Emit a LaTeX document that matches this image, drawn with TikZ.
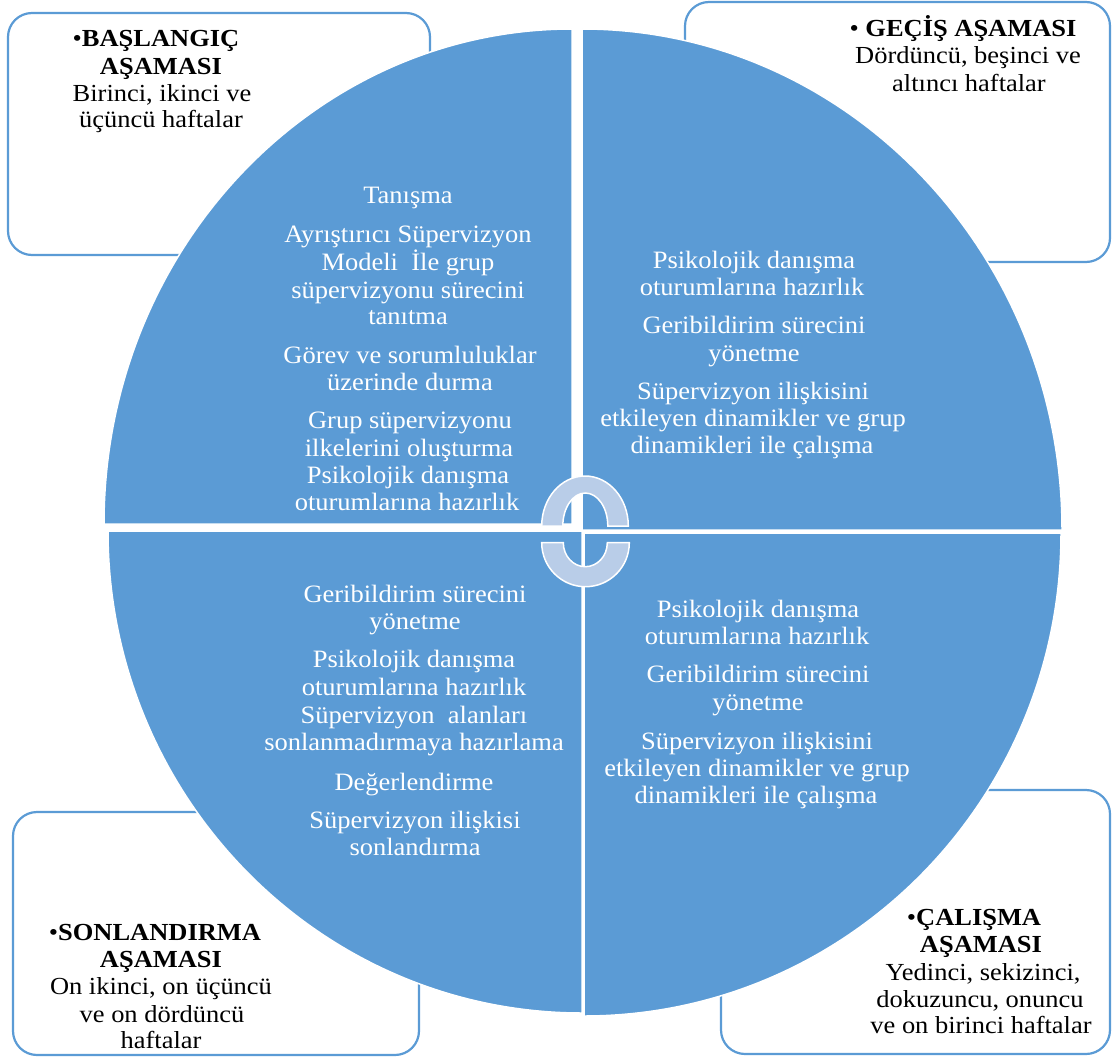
\documentclass[tikz,border=0pt]{standalone}
\usepackage{fontspec}
\setmainfont{Liberation Serif}[FakeStretch=1.06]
\newfontfamily\boxfont{Liberation Serif}[FakeStretch=1.08]
\definecolor{qblue}{HTML}{5B9BD5}
\definecolor{arcblue}{HTML}{B9CDE8}
\tikzset{
  quad/.style={fill=qblue, draw=white, line width=1.5pt},
  ring/.style={fill=arcblue, draw=white, line width=1.5pt},
  phasebox/.style={draw=qblue, fill=white, line width=2.2pt, rounded corners=24pt, inner sep=0pt},
  ctext/.style={text=white, font=\fontsize{25}{27.5}\selectfont, anchor=base, inner sep=0pt},
  btext/.style={text=black, font=\boxfont\fontsize{24.5}{27}\selectfont, anchor=base, inner sep=0pt},
}
\begin{document}
\begin{tikzpicture}[x=1pt, y=-1pt]
\useasboundingbox (0,0) rectangle (1112,1057);
% phase boxes
\node[phasebox, minimum width=422pt, minimum height=242pt] (boxTL) at (219,134) {};
\node[phasebox, minimum width=425pt, minimum height=260pt] (boxTR) at (897.5,132) {};
\node[phasebox, minimum width=406pt, minimum height=243pt] (boxBL) at (216,933.5) {};
\node[phasebox, minimum width=389pt, minimum height=264pt] (boxBR) at (915.5,922) {};
% quadrants
\draw[quad] (572,524) -- (104,524) arc[start angle=180, end angle=270, x radius=468, y radius=495] -- cycle;
\draw[quad] (582,530) -- (582,29) arc[start angle=270, end angle=360, x radius=480, y radius=501] -- cycle;
\draw[quad] (582,531) -- (108,531) arc[start angle=180, end angle=90, x radius=474, y radius=482] -- cycle;
\draw[quad] (584,533) -- (1061,533) arc[start angle=0, end angle=90, x radius=477, y radius=483] -- cycle;
% quadrant texts: top left
\node[ctext] (tl1) at (408,203) {Tanışma};
\node[ctext] (tl2) at (408,242) {Ayrıştırıcı Süpervizyon};
\node[ctext] (tl3) at (408,270) {Modeli~ İle grup};
\node[ctext] (tl4) at (408,298) {süpervizyonu sürecini};
\node[ctext] (tl5) at (408,324) {tanıtma};
\node[ctext] (tl6) at (410,363) {Görev ve sorumluluklar};
\node[ctext] (tl7) at (410,390) {üzerinde durma};
\node[ctext] (tl8) at (410,428) {Grup süpervizyonu};
\node[ctext] (tl9) at (409,456) {ilkelerini oluşturma};
\node[ctext] (tl10) at (408,483) {Psikolojik danışma};
\node[ctext] (tl11) at (407,510) {oturumlarına hazırlık};
% top right
\node[ctext] (tr1) at (754,268) {Psikolojik danışma};
\node[ctext] (tr2) at (752,295) {oturumlarına hazırlık};
\node[ctext] (tr3) at (754,333) {Geribildirim sürecini};
\node[ctext] (tr4) at (754,361) {yönetme};
\node[ctext] (tr5) at (753,399) {Süpervizyon ilişkisini};
\node[ctext] (tr6) at (753,426) {etkileyen dinamikler ve grup};
\node[ctext] (tr7) at (752,453) {dinamikleri ile çalışma};
% bottom left
\node[ctext] (bl1) at (415,602) {Geribildirim sürecini};
\node[ctext] (bl2) at (415,629) {yönetme};
\node[ctext] (bl3) at (414,667) {Psikolojik danışma};
\node[ctext] (bl4) at (414,695) {oturumlarına hazırlık};
\node[ctext] (bl5) at (414,723) {Süpervizyon~ alanları};
\node[ctext] (bl6) at (414,750) {sonlanmadırmaya hazırlama};
\node[ctext] (bl7) at (414,790) {Değerlendirme};
\node[ctext] (bl8) at (415,828) {Süpervizyon ilişkisi};
\node[ctext] (bl9) at (415,855) {sonlandırma};
% bottom right
\node[ctext] (br1) at (758,617) {Psikolojik danışma};
\node[ctext] (br2) at (757,644) {oturumlarına hazırlık};
\node[ctext] (br3) at (758,682) {Geribildirim sürecini};
\node[ctext] (br4) at (758,710) {yönetme};
\node[ctext] (br5) at (757,749) {Süpervizyon ilişkisini};
\node[ctext] (br6) at (757,776) {etkileyen dinamikler ve grup};
\node[ctext] (br7) at (756,803) {dinamikleri ile çalışma};
% box texts
\node[btext] (ht1) at (156,47) {•\textbf{BAŞLANGIÇ}};
\node[btext] (ht2) at (161,75) {\textbf{AŞAMASI}};
\node[btext] (ht3) at (162,102) {Birinci, ikinci ve};
\node[btext] (ht4) at (161,128) {üçüncü haftalar};
\node[btext] (hr1) at (963,37) {• \textbf{GEÇİŞ AŞAMASI}};
\node[btext] (hr2) at (968,64) {Dördüncü, beşinci ve};
\node[btext] (hr3) at (969,92) {altıncı haftalar};
\node[btext] (hl1) at (155,940) {•\textbf{SONLANDIRMA}};
\node[btext] (hl2) at (161,967) {\textbf{AŞAMASI}};
\node[btext] (hl3) at (161,994) {On ikinci, on üçüncü};
\node[btext] (hl4) at (162,1022) {ve on dördüncü};
\node[btext] (hl5) at (161,1048) {haftalar};
\node[btext] (hb1) at (974,925) {•\textbf{ÇALIŞMA}};
\node[btext] (hb2) at (981,952) {\textbf{AŞAMASI}};
\node[btext] (hb3) at (983,980) {Yedinci, sekizinci,};
\node[btext] (hb4) at (980,1007) {dokuzuncu, onuncu};
\node[btext] (hb5) at (981,1033) {ve on birinci haftalar};
% central half rings
\draw[ring] (541.7,526) arc[start angle=180, end angle=360, x radius=43.3, y radius=50]
  -- (607.8,526) arc[start angle=360, end angle=180, x radius=22.5, y radius=33] -- cycle;
\draw[ring] (541.7,542.7) arc[start angle=180, end angle=0, x radius=43.8, y radius=44]
  -- (607.3,542.7) arc[start angle=0, end angle=180, x radius=22, y radius=24] -- cycle;
\end{tikzpicture}
\end{document}
